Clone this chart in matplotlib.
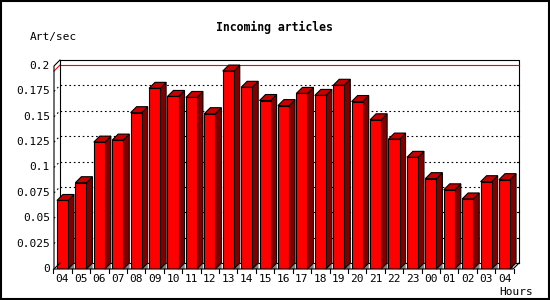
import matplotlib
matplotlib.use('Agg')
from matplotlib import pyplot as plt
from matplotlib.patches import Polygon, Rectangle

hours = ['04', '05', '06', '07', '08', '09', '10', '11', '12', '13', '14', '15',
         '16', '17', '18', '19', '20', '21', '22', '23', '00', '01', '02', '03', '04']
rate = [0.0675, 0.085, 0.125, 0.127, 0.154, 0.178, 0.170, 0.169, 0.153, 0.195,
        0.179, 0.166, 0.161, 0.173, 0.171, 0.181, 0.165, 0.147, 0.128, 0.110,
        0.089, 0.078, 0.069, 0.086, 0.088]
yticks = [0, 0.025, 0.05, 0.075, 0.1, 0.125, 0.15, 0.175, 0.2]
ylabels = ['0', '0.025', '0.05', '0.075', '0.1', '0.125', '0.15', '0.175', '0.2']

mono = 'DejaVu Sans Mono'
fig = plt.figure(figsize=(5.5, 3), dpi=100)
ax = fig.add_axes([54/550, 31/300, 459/550, 203/300])

x0, x1 = -0.46, 24.46
top = 0.2
ax.set_xlim(x0, x1)
ax.set_ylim(0, top)
ax.axis('off')

# 3d depth, 6 px each way
dx = 6 / 18.42
dy = 6 * top / 203
w = 0.6
lw = 0.8

# back plane grid
for v in yticks[1:-1]:
    ax.plot([x0 + dx, x1 + dx], [v + dy, v + dy], color='black', lw=lw,
            linestyle=(0, (1.5, 2.5)), clip_on=False, zorder=1)
    ax.plot([x0, x0 + dx], [v, v + dy], color='black', lw=lw,
            linestyle=(0, (1.5, 2.5)), zorder=1)
    ax.plot([x1 + dx - 0.12, x1 + dx], [v + dy, v + dy], color='black', lw=lw,
            clip_on=False, zorder=1)

# max line in red
m = max(rate)
ax.plot([x0 + dx, x1 + dx], [m + dy, m + dy], color='red', lw=lw, clip_on=False, zorder=1)
ax.plot([x0, x0 + dx], [m, m + dy], color='red', lw=lw, clip_on=False, zorder=1)

# frame of back plane and floor
ax.plot([x0 + dx, x0 + dx, x1 + dx, x1 + dx], [dy, top + dy, top + dy, dy],
        color='black', lw=lw, clip_on=False, zorder=1)
ax.plot([x0 + dx, x1 + dx], [dy, dy], color='black', lw=lw, clip_on=False, zorder=1)

for i, v in enumerate(rate):
    l = i - w / 2
    r = i + w / 2
    ax.add_patch(Polygon([(r, 0), (r + dx, dy), (r + dx, 0)], closed=True,
                         facecolor='#808080', edgecolor='#808080', lw=0.3, zorder=2))
    ax.add_patch(Polygon([(r, 0), (r + dx, dy), (r + dx, v + dy), (r, v)], closed=True,
                         facecolor='#800000', edgecolor='black', lw=lw, zorder=3,
                         clip_on=False))
    ax.add_patch(Polygon([(l, v), (l + dx, v + dy), (r + dx, v + dy), (r, v)], closed=True,
                         facecolor='#c80000', edgecolor='black', lw=lw, zorder=3,
                         clip_on=False))
    ax.add_patch(Rectangle((l, 0), w, v, facecolor='#ff0000', edgecolor='black',
                           lw=lw, zorder=4))

# front axes
ax.plot([x0 + dx, x0, x0, x1, x1 + dx], [top + dy, top, 0, 0, dy],
        color='black', lw=lw, clip_on=False, zorder=5)
ax.plot([x0, x0 + dx], [0, dy], color='black', lw=lw, clip_on=False, zorder=5)

for v, s in zip(yticks, ylabels):
    ax.text(x0 - 0.22, v, s, ha='right', va='center', family=mono, fontsize=8)
for i, s in enumerate(hours):
    ax.text(i, -0.0045, s, ha='center', va='top', family=mono, fontsize=8)
for i in range(26):
    ax.plot([i - 0.5, i - 0.5], [0, -0.004], color='black', lw=lw, clip_on=False)

fig.text(274/550, 1 - 27/300, 'Incoming articles', ha='center', va='center',
         family=mono, fontsize=8.3, fontweight='bold')
fig.text(30/550, 1 - 37/300, 'Art/sec', ha='left', va='center', family=mono, fontsize=8)
fig.text(533/550, 1 - 292/300, 'Hours', ha='right', va='center', family=mono, fontsize=8)

fig.add_artist(Rectangle((0.001, 0.002), 0.997, 0.995, transform=fig.transFigure,
                         fill=False, edgecolor='black', lw=1.5))

plt.savefig('out.png', dpi=100)
